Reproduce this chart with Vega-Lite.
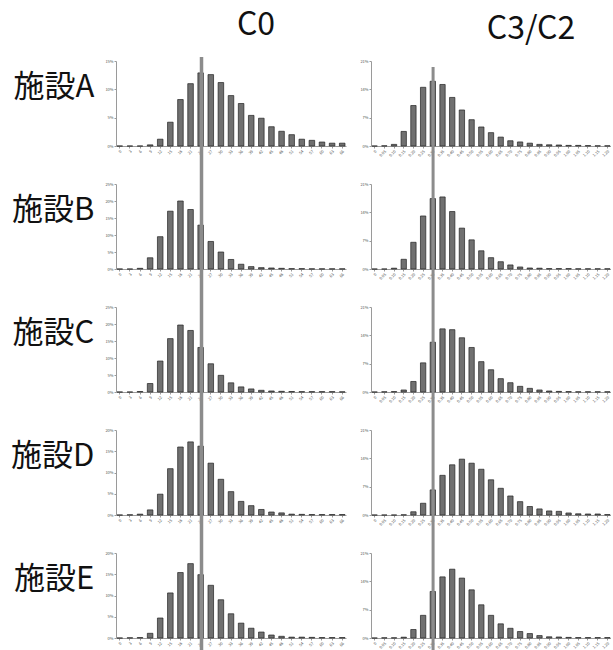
{
  "$schema": "https://vega.github.io/schema/vega-lite/v6.json",
  "background": "white",
  "padding": {"left": 10, "right": 0, "top": 9, "bottom": 0},
  "bounds": "flush",
  "columns": 2,
  "spacing": {"row": 38, "column": 25},
  "datasets": {
    "lines": [{"m": "C0", "b": "24"}, {"m": "C3/C2", "b": "0.30"}],
    "hist": [
      {"f":"A","m":"C0","b":"0","p":0},{"f":"A","m":"C0","b":"3","p":0},{"f":"A","m":"C0","b":"6","p":0},{"f":"A","m":"C0","b":"9","p":0.2},{"f":"A","m":"C0","b":"12","p":1.2},{"f":"A","m":"C0","b":"15","p":4.2},{"f":"A","m":"C0","b":"18","p":8.2},{"f":"A","m":"C0","b":"21","p":11.0},{"f":"A","m":"C0","b":"24","p":12.9},{"f":"A","m":"C0","b":"27","p":12.6},{"f":"A","m":"C0","b":"30","p":11.2},{"f":"A","m":"C0","b":"33","p":8.9},{"f":"A","m":"C0","b":"36","p":7.5},{"f":"A","m":"C0","b":"39","p":5.4},{"f":"A","m":"C0","b":"42","p":4.9},{"f":"A","m":"C0","b":"45","p":3.4},{"f":"A","m":"C0","b":"48","p":2.6},{"f":"A","m":"C0","b":"51","p":2.0},{"f":"A","m":"C0","b":"54","p":1.2},{"f":"A","m":"C0","b":"57","p":1.0},{"f":"A","m":"C0","b":"60","p":0.7},{"f":"A","m":"C0","b":"63","p":0.5},{"f":"A","m":"C0","b":"66","p":0.5},
      {"f":"B","m":"C0","b":"0","p":0},{"f":"B","m":"C0","b":"3","p":0},{"f":"B","m":"C0","b":"6","p":0.2},{"f":"B","m":"C0","b":"9","p":3.3},{"f":"B","m":"C0","b":"12","p":9.5},{"f":"B","m":"C0","b":"15","p":17.0},{"f":"B","m":"C0","b":"18","p":20.0},{"f":"B","m":"C0","b":"21","p":17.5},{"f":"B","m":"C0","b":"24","p":12.9},{"f":"B","m":"C0","b":"27","p":8.1},{"f":"B","m":"C0","b":"30","p":5.0},{"f":"B","m":"C0","b":"33","p":2.8},{"f":"B","m":"C0","b":"36","p":1.4},{"f":"B","m":"C0","b":"39","p":0.7},{"f":"B","m":"C0","b":"42","p":0.4},{"f":"B","m":"C0","b":"45","p":0.3},{"f":"B","m":"C0","b":"48","p":0.2},{"f":"B","m":"C0","b":"51","p":0.1},{"f":"B","m":"C0","b":"54","p":0.1},{"f":"B","m":"C0","b":"57","p":0.05},{"f":"B","m":"C0","b":"60","p":0.05},{"f":"B","m":"C0","b":"63","p":0.05},{"f":"B","m":"C0","b":"66","p":0.05},
      {"f":"C","m":"C0","b":"0","p":0},{"f":"C","m":"C0","b":"3","p":0},{"f":"C","m":"C0","b":"6","p":0.15},{"f":"C","m":"C0","b":"9","p":2.5},{"f":"C","m":"C0","b":"12","p":9.1},{"f":"C","m":"C0","b":"15","p":15.7},{"f":"C","m":"C0","b":"18","p":19.7},{"f":"C","m":"C0","b":"21","p":18.1},{"f":"C","m":"C0","b":"24","p":13.1},{"f":"C","m":"C0","b":"27","p":8.3},{"f":"C","m":"C0","b":"30","p":4.9},{"f":"C","m":"C0","b":"33","p":2.7},{"f":"C","m":"C0","b":"36","p":1.5},{"f":"C","m":"C0","b":"39","p":0.9},{"f":"C","m":"C0","b":"42","p":0.5},{"f":"C","m":"C0","b":"45","p":0.3},{"f":"C","m":"C0","b":"48","p":0.2},{"f":"C","m":"C0","b":"51","p":0.15},{"f":"C","m":"C0","b":"54","p":0.1},{"f":"C","m":"C0","b":"57","p":0.1},{"f":"C","m":"C0","b":"60","p":0.1},{"f":"C","m":"C0","b":"63","p":0.1},{"f":"C","m":"C0","b":"66","p":0.05},
      {"f":"D","m":"C0","b":"0","p":0},{"f":"D","m":"C0","b":"3","p":0.05},{"f":"D","m":"C0","b":"6","p":0.2},{"f":"D","m":"C0","b":"9","p":1.2},{"f":"D","m":"C0","b":"12","p":4.9},{"f":"D","m":"C0","b":"15","p":10.9},{"f":"D","m":"C0","b":"18","p":16.0},{"f":"D","m":"C0","b":"21","p":17.2},{"f":"D","m":"C0","b":"24","p":16.2},{"f":"D","m":"C0","b":"27","p":12.2},{"f":"D","m":"C0","b":"30","p":8.4},{"f":"D","m":"C0","b":"33","p":5.5},{"f":"D","m":"C0","b":"36","p":3.2},{"f":"D","m":"C0","b":"39","p":2.2},{"f":"D","m":"C0","b":"42","p":1.3},{"f":"D","m":"C0","b":"45","p":0.7},{"f":"D","m":"C0","b":"48","p":0.5},{"f":"D","m":"C0","b":"51","p":0.2},{"f":"D","m":"C0","b":"54","p":0.15},{"f":"D","m":"C0","b":"57","p":0.1},{"f":"D","m":"C0","b":"60","p":0.1},{"f":"D","m":"C0","b":"63","p":0.1},{"f":"D","m":"C0","b":"66","p":0.1},
      {"f":"E","m":"C0","b":"0","p":0},{"f":"E","m":"C0","b":"3","p":0.05},{"f":"E","m":"C0","b":"6","p":0.1},{"f":"E","m":"C0","b":"9","p":1.1},{"f":"E","m":"C0","b":"12","p":4.7},{"f":"E","m":"C0","b":"15","p":10.6},{"f":"E","m":"C0","b":"18","p":15.4},{"f":"E","m":"C0","b":"21","p":17.5},{"f":"E","m":"C0","b":"24","p":14.9},{"f":"E","m":"C0","b":"27","p":12.4},{"f":"E","m":"C0","b":"30","p":9.0},{"f":"E","m":"C0","b":"33","p":5.7},{"f":"E","m":"C0","b":"36","p":3.5},{"f":"E","m":"C0","b":"39","p":2.3},{"f":"E","m":"C0","b":"42","p":1.4},{"f":"E","m":"C0","b":"45","p":0.7},{"f":"E","m":"C0","b":"48","p":0.4},{"f":"E","m":"C0","b":"51","p":0.2},{"f":"E","m":"C0","b":"54","p":0.2},{"f":"E","m":"C0","b":"57","p":0.15},{"f":"E","m":"C0","b":"60","p":0.1},{"f":"E","m":"C0","b":"63","p":0.1},{"f":"E","m":"C0","b":"66","p":0.1},
      {"f":"A","m":"C3/C2","b":"0","p":0},{"f":"A","m":"C3/C2","b":"0.05","p":0.05},{"f":"A","m":"C3/C2","b":"0.10","p":0.4},{"f":"A","m":"C3/C2","b":"0.15","p":3.6},{"f":"A","m":"C3/C2","b":"0.20","p":10.0},{"f":"A","m":"C3/C2","b":"0.25","p":14.5},{"f":"A","m":"C3/C2","b":"0.30","p":16.0},{"f":"A","m":"C3/C2","b":"0.35","p":15.2},{"f":"A","m":"C3/C2","b":"0.40","p":12.0},{"f":"A","m":"C3/C2","b":"0.45","p":8.9},{"f":"A","m":"C3/C2","b":"0.50","p":6.5},{"f":"A","m":"C3/C2","b":"0.55","p":4.7},{"f":"A","m":"C3/C2","b":"0.60","p":3.3},{"f":"A","m":"C3/C2","b":"0.65","p":2.2},{"f":"A","m":"C3/C2","b":"0.70","p":1.3},{"f":"A","m":"C3/C2","b":"0.75","p":1.0},{"f":"A","m":"C3/C2","b":"0.80","p":0.7},{"f":"A","m":"C3/C2","b":"0.85","p":0.4},{"f":"A","m":"C3/C2","b":"0.90","p":0.3},{"f":"A","m":"C3/C2","b":"0.95","p":0.25},{"f":"A","m":"C3/C2","b":"1.00","p":0.15},{"f":"A","m":"C3/C2","b":"1.05","p":0.15},{"f":"A","m":"C3/C2","b":"1.10","p":0.1},{"f":"A","m":"C3/C2","b":"1.15","p":0.05},{"f":"A","m":"C3/C2","b":"1.20","p":0.05},
      {"f":"B","m":"C3/C2","b":"0","p":0},{"f":"B","m":"C3/C2","b":"0.05","p":0},{"f":"B","m":"C3/C2","b":"0.10","p":0.2},{"f":"B","m":"C3/C2","b":"0.15","p":2.4},{"f":"B","m":"C3/C2","b":"0.20","p":6.6},{"f":"B","m":"C3/C2","b":"0.25","p":13.1},{"f":"B","m":"C3/C2","b":"0.30","p":17.4},{"f":"B","m":"C3/C2","b":"0.35","p":17.8},{"f":"B","m":"C3/C2","b":"0.40","p":14.2},{"f":"B","m":"C3/C2","b":"0.45","p":10.1},{"f":"B","m":"C3/C2","b":"0.50","p":7.2},{"f":"B","m":"C3/C2","b":"0.55","p":4.5},{"f":"B","m":"C3/C2","b":"0.60","p":2.8},{"f":"B","m":"C3/C2","b":"0.65","p":1.8},{"f":"B","m":"C3/C2","b":"0.70","p":1.0},{"f":"B","m":"C3/C2","b":"0.75","p":0.5},{"f":"B","m":"C3/C2","b":"0.80","p":0.25},{"f":"B","m":"C3/C2","b":"0.85","p":0.2},{"f":"B","m":"C3/C2","b":"0.90","p":0.1},{"f":"B","m":"C3/C2","b":"0.95","p":0.1},{"f":"B","m":"C3/C2","b":"1.00","p":0.1},{"f":"B","m":"C3/C2","b":"1.05","p":0.05},{"f":"B","m":"C3/C2","b":"1.10","p":0.05},{"f":"B","m":"C3/C2","b":"1.15","p":0.05},{"f":"B","m":"C3/C2","b":"1.20","p":0.05},
      {"f":"C","m":"C3/C2","b":"0","p":0},{"f":"C","m":"C3/C2","b":"0.05","p":0.05},{"f":"C","m":"C3/C2","b":"0.10","p":0.1},{"f":"C","m":"C3/C2","b":"0.15","p":0.5},{"f":"C","m":"C3/C2","b":"0.20","p":2.6},{"f":"C","m":"C3/C2","b":"0.25","p":7.2},{"f":"C","m":"C3/C2","b":"0.30","p":12.3},{"f":"C","m":"C3/C2","b":"0.35","p":15.6},{"f":"C","m":"C3/C2","b":"0.40","p":15.4},{"f":"C","m":"C3/C2","b":"0.45","p":13.4},{"f":"C","m":"C3/C2","b":"0.50","p":11.0},{"f":"C","m":"C3/C2","b":"0.55","p":7.5},{"f":"C","m":"C3/C2","b":"0.60","p":5.5},{"f":"C","m":"C3/C2","b":"0.65","p":3.3},{"f":"C","m":"C3/C2","b":"0.70","p":2.3},{"f":"C","m":"C3/C2","b":"0.75","p":1.4},{"f":"C","m":"C3/C2","b":"0.80","p":0.9},{"f":"C","m":"C3/C2","b":"0.85","p":0.5},{"f":"C","m":"C3/C2","b":"0.90","p":0.25},{"f":"C","m":"C3/C2","b":"0.95","p":0.15},{"f":"C","m":"C3/C2","b":"1.00","p":0.1},{"f":"C","m":"C3/C2","b":"1.05","p":0.05},{"f":"C","m":"C3/C2","b":"1.10","p":0.05},{"f":"C","m":"C3/C2","b":"1.15","p":0.05},{"f":"C","m":"C3/C2","b":"1.20","p":0.05},
      {"f":"D","m":"C3/C2","b":"0","p":0},{"f":"D","m":"C3/C2","b":"0.05","p":0},{"f":"D","m":"C3/C2","b":"0.10","p":0},{"f":"D","m":"C3/C2","b":"0.15","p":0.05},{"f":"D","m":"C3/C2","b":"0.20","p":0.8},{"f":"D","m":"C3/C2","b":"0.25","p":2.9},{"f":"D","m":"C3/C2","b":"0.30","p":6.2},{"f":"D","m":"C3/C2","b":"0.35","p":9.8},{"f":"D","m":"C3/C2","b":"0.40","p":12.4},{"f":"D","m":"C3/C2","b":"0.45","p":13.8},{"f":"D","m":"C3/C2","b":"0.50","p":12.8},{"f":"D","m":"C3/C2","b":"0.55","p":11.3},{"f":"D","m":"C3/C2","b":"0.60","p":8.7},{"f":"D","m":"C3/C2","b":"0.65","p":6.6},{"f":"D","m":"C3/C2","b":"0.70","p":4.7},{"f":"D","m":"C3/C2","b":"0.75","p":3.3},{"f":"D","m":"C3/C2","b":"0.80","p":2.1},{"f":"D","m":"C3/C2","b":"0.85","p":1.5},{"f":"D","m":"C3/C2","b":"0.90","p":1.0},{"f":"D","m":"C3/C2","b":"0.95","p":0.9},{"f":"D","m":"C3/C2","b":"1.00","p":0.5},{"f":"D","m":"C3/C2","b":"1.05","p":0.3},{"f":"D","m":"C3/C2","b":"1.10","p":0.25},{"f":"D","m":"C3/C2","b":"1.15","p":0.25},{"f":"D","m":"C3/C2","b":"1.20","p":0.1},
      {"f":"E","m":"C3/C2","b":"0","p":0},{"f":"E","m":"C3/C2","b":"0.05","p":0.05},{"f":"E","m":"C3/C2","b":"0.10","p":0.05},{"f":"E","m":"C3/C2","b":"0.15","p":0.2},{"f":"E","m":"C3/C2","b":"0.20","p":2.1},{"f":"E","m":"C3/C2","b":"0.25","p":5.6},{"f":"E","m":"C3/C2","b":"0.30","p":11.5},{"f":"E","m":"C3/C2","b":"0.35","p":15.1},{"f":"E","m":"C3/C2","b":"0.40","p":17.0},{"f":"E","m":"C3/C2","b":"0.45","p":14.8},{"f":"E","m":"C3/C2","b":"0.50","p":11.9},{"f":"E","m":"C3/C2","b":"0.55","p":8.2},{"f":"E","m":"C3/C2","b":"0.60","p":5.6},{"f":"E","m":"C3/C2","b":"0.65","p":3.5},{"f":"E","m":"C3/C2","b":"0.70","p":2.4},{"f":"E","m":"C3/C2","b":"0.75","p":1.6},{"f":"E","m":"C3/C2","b":"0.80","p":1.1},{"f":"E","m":"C3/C2","b":"0.85","p":0.6},{"f":"E","m":"C3/C2","b":"0.90","p":0.3},{"f":"E","m":"C3/C2","b":"0.95","p":0.25},{"f":"E","m":"C3/C2","b":"1.00","p":0.15},{"f":"E","m":"C3/C2","b":"1.05","p":0.1},{"f":"E","m":"C3/C2","b":"1.10","p":0.1},{"f":"E","m":"C3/C2","b":"1.15","p":0.1},{"f":"E","m":"C3/C2","b":"1.20","p":0.1}
    ]
  },
  "config": {
    "font": "Noto Sans CJK JP",
    "view": {"stroke": null},
    "axis": {"grid": false, "labelFontSize": 4, "labelColor": "#555", "domainColor": "#9a9a9a", "tickColor": "#9a9a9a", "tickSize": 2, "labelPadding": 1},
    "axisX": {"labelAngle": -45, "title": null},
    "title": {"fontSize": 32, "fontWeight": "normal", "offset": 13, "color": "#111"}
  },
  "concat": [
      {"width": 230, "height": 85, "title": {"text": "C0", "dx": 25},
       "layer": [
        {"data": {"name": "hist"}, "transform": [{"filter": "datum.f=='A' && datum.m=='C0'"}],
         "mark": {"type": "bar", "fill": "#707070", "stroke": "#222", "strokeWidth": 0.7},
         "encoding": {"x": {"field": "b", "type": "ordinal", "sort": null, "scale": {"paddingInner": 0.45, "paddingOuter": 0.1}, "axis": {"title": null}},
          "y": {"field": "p", "type": "quantitative", "scale": {"domain": [0, 15]}, "axis": {"values": [0, 5, 10, 15], "labelExpr": "datum.value + '%'", "title": "施設A", "titleAngle": 0, "titleFontSize": 31, "titleFontWeight": "normal", "titleColor": "#111", "titleAlign": "right", "titleBaseline": "bottom", "titlePadding": 11}}}},
        {"data": {"name": "lines"}, "transform": [{"filter": "datum.m=='C0'"}],
         "mark": {"type": "rule", "color": "#8c8c8c", "strokeWidth": 3.5, "y": -4, "y2": 104},
         "encoding": {"x": {"field": "b", "type": "ordinal", "sort": null, "bandPosition": 0.65}}}
       ]},
      {"width": 240, "height": 85, "title": {"text": "C3/C2", "dx": 40},
       "layer": [
        {"data": {"name": "hist"}, "transform": [{"filter": "datum.f=='A' && datum.m=='C3/C2'"}],
         "mark": {"type": "bar", "fill": "#707070", "stroke": "#222", "strokeWidth": 0.7},
         "encoding": {"x": {"field": "b", "type": "ordinal", "sort": null, "scale": {"paddingInner": 0.45, "paddingOuter": 0.1}, "axis": {"title": null}},
          "y": {"field": "p", "type": "quantitative", "scale": {"domain": [0, 21]}, "axis": {"values": [0, 7, 14, 21], "labelExpr": "datum.value + '%'", "title": null}}}},
        {"data": {"name": "lines"}, "transform": [{"filter": "datum.m=='C3/C2'"}],
         "mark": {"type": "rule", "color": "#8c8c8c", "strokeWidth": 3, "y": 6, "y2": 104},
         "encoding": {"x": {"field": "b", "type": "ordinal", "sort": null, "bandPosition": 0.55}}}
       ]},
      {"width": 230, "height": 85,
       "layer": [
        {"data": {"name": "hist"}, "transform": [{"filter": "datum.f=='B' && datum.m=='C0'"}],
         "mark": {"type": "bar", "fill": "#707070", "stroke": "#222", "strokeWidth": 0.7},
         "encoding": {"x": {"field": "b", "type": "ordinal", "sort": null, "scale": {"paddingInner": 0.45, "paddingOuter": 0.1}, "axis": {"title": null}},
          "y": {"field": "p", "type": "quantitative", "scale": {"domain": [0, 25]}, "axis": {"values": [0, 5, 10, 15, 20, 25], "labelExpr": "datum.value + '%'", "title": "施設B", "titleAngle": 0, "titleFontSize": 31, "titleFontWeight": "normal", "titleColor": "#111", "titleAlign": "right", "titleBaseline": "bottom", "titlePadding": 11}}}},
        {"data": {"name": "lines"}, "transform": [{"filter": "datum.m=='C0'"}],
         "mark": {"type": "rule", "color": "#8c8c8c", "strokeWidth": 3.5, "y": -19, "y2": 104},
         "encoding": {"x": {"field": "b", "type": "ordinal", "sort": null, "bandPosition": 0.65}}}
       ]},
      {"width": 240, "height": 85,
       "layer": [
        {"data": {"name": "hist"}, "transform": [{"filter": "datum.f=='B' && datum.m=='C3/C2'"}],
         "mark": {"type": "bar", "fill": "#707070", "stroke": "#222", "strokeWidth": 0.7},
         "encoding": {"x": {"field": "b", "type": "ordinal", "sort": null, "scale": {"paddingInner": 0.45, "paddingOuter": 0.1}, "axis": {"title": null}},
          "y": {"field": "p", "type": "quantitative", "scale": {"domain": [0, 21]}, "axis": {"values": [0, 7, 14, 21], "labelExpr": "datum.value + '%'", "title": null}}}},
        {"data": {"name": "lines"}, "transform": [{"filter": "datum.m=='C3/C2'"}],
         "mark": {"type": "rule", "color": "#8c8c8c", "strokeWidth": 3, "y": -19, "y2": 104},
         "encoding": {"x": {"field": "b", "type": "ordinal", "sort": null, "bandPosition": 0.55}}}
       ]},
      {"width": 230, "height": 85,
       "layer": [
        {"data": {"name": "hist"}, "transform": [{"filter": "datum.f=='C' && datum.m=='C0'"}],
         "mark": {"type": "bar", "fill": "#707070", "stroke": "#222", "strokeWidth": 0.7},
         "encoding": {"x": {"field": "b", "type": "ordinal", "sort": null, "scale": {"paddingInner": 0.45, "paddingOuter": 0.1}, "axis": {"title": null}},
          "y": {"field": "p", "type": "quantitative", "scale": {"domain": [0, 25]}, "axis": {"values": [0, 5, 10, 15, 20, 25], "labelExpr": "datum.value + '%'", "title": "施設C", "titleAngle": 0, "titleFontSize": 31, "titleFontWeight": "normal", "titleColor": "#111", "titleAlign": "right", "titleBaseline": "bottom", "titlePadding": 11}}}},
        {"data": {"name": "lines"}, "transform": [{"filter": "datum.m=='C0'"}],
         "mark": {"type": "rule", "color": "#8c8c8c", "strokeWidth": 3.5, "y": -19, "y2": 104},
         "encoding": {"x": {"field": "b", "type": "ordinal", "sort": null, "bandPosition": 0.65}}}
       ]},
      {"width": 240, "height": 85,
       "layer": [
        {"data": {"name": "hist"}, "transform": [{"filter": "datum.f=='C' && datum.m=='C3/C2'"}],
         "mark": {"type": "bar", "fill": "#707070", "stroke": "#222", "strokeWidth": 0.7},
         "encoding": {"x": {"field": "b", "type": "ordinal", "sort": null, "scale": {"paddingInner": 0.45, "paddingOuter": 0.1}, "axis": {"title": null}},
          "y": {"field": "p", "type": "quantitative", "scale": {"domain": [0, 21]}, "axis": {"values": [0, 7, 14, 21], "labelExpr": "datum.value + '%'", "title": null}}}},
        {"data": {"name": "lines"}, "transform": [{"filter": "datum.m=='C3/C2'"}],
         "mark": {"type": "rule", "color": "#8c8c8c", "strokeWidth": 3, "y": -19, "y2": 104},
         "encoding": {"x": {"field": "b", "type": "ordinal", "sort": null, "bandPosition": 0.55}}}
       ]},
      {"width": 230, "height": 85,
       "layer": [
        {"data": {"name": "hist"}, "transform": [{"filter": "datum.f=='D' && datum.m=='C0'"}],
         "mark": {"type": "bar", "fill": "#707070", "stroke": "#222", "strokeWidth": 0.7},
         "encoding": {"x": {"field": "b", "type": "ordinal", "sort": null, "scale": {"paddingInner": 0.45, "paddingOuter": 0.1}, "axis": {"title": null}},
          "y": {"field": "p", "type": "quantitative", "scale": {"domain": [0, 20]}, "axis": {"values": [0, 5, 10, 15, 20], "labelExpr": "datum.value + '%'", "title": "施設D", "titleAngle": 0, "titleFontSize": 31, "titleFontWeight": "normal", "titleColor": "#111", "titleAlign": "right", "titleBaseline": "bottom", "titlePadding": 11}}}},
        {"data": {"name": "lines"}, "transform": [{"filter": "datum.m=='C0'"}],
         "mark": {"type": "rule", "color": "#8c8c8c", "strokeWidth": 3.5, "y": -19, "y2": 104},
         "encoding": {"x": {"field": "b", "type": "ordinal", "sort": null, "bandPosition": 0.65}}}
       ]},
      {"width": 240, "height": 85,
       "layer": [
        {"data": {"name": "hist"}, "transform": [{"filter": "datum.f=='D' && datum.m=='C3/C2'"}],
         "mark": {"type": "bar", "fill": "#707070", "stroke": "#222", "strokeWidth": 0.7},
         "encoding": {"x": {"field": "b", "type": "ordinal", "sort": null, "scale": {"paddingInner": 0.45, "paddingOuter": 0.1}, "axis": {"title": null}},
          "y": {"field": "p", "type": "quantitative", "scale": {"domain": [0, 21]}, "axis": {"values": [0, 7, 14, 21], "labelExpr": "datum.value + '%'", "title": null}}}},
        {"data": {"name": "lines"}, "transform": [{"filter": "datum.m=='C3/C2'"}],
         "mark": {"type": "rule", "color": "#8c8c8c", "strokeWidth": 3, "y": -19, "y2": 104},
         "encoding": {"x": {"field": "b", "type": "ordinal", "sort": null, "bandPosition": 0.55}}}
       ]},
      {"width": 230, "height": 85,
       "layer": [
        {"data": {"name": "hist"}, "transform": [{"filter": "datum.f=='E' && datum.m=='C0'"}],
         "mark": {"type": "bar", "fill": "#707070", "stroke": "#222", "strokeWidth": 0.7},
         "encoding": {"x": {"field": "b", "type": "ordinal", "sort": null, "scale": {"paddingInner": 0.45, "paddingOuter": 0.1}, "axis": {"title": null}},
          "y": {"field": "p", "type": "quantitative", "scale": {"domain": [0, 20]}, "axis": {"values": [0, 5, 10, 15, 20], "labelExpr": "datum.value + '%'", "title": "施設E", "titleAngle": 0, "titleFontSize": 31, "titleFontWeight": "normal", "titleColor": "#111", "titleAlign": "right", "titleBaseline": "bottom", "titlePadding": 11}}}},
        {"data": {"name": "lines"}, "transform": [{"filter": "datum.m=='C0'"}],
         "mark": {"type": "rule", "color": "#8c8c8c", "strokeWidth": 3.5, "y": -19, "y2": 98},
         "encoding": {"x": {"field": "b", "type": "ordinal", "sort": null, "bandPosition": 0.65}}}
       ]},
      {"width": 240, "height": 85,
       "layer": [
        {"data": {"name": "hist"}, "transform": [{"filter": "datum.f=='E' && datum.m=='C3/C2'"}],
         "mark": {"type": "bar", "fill": "#707070", "stroke": "#222", "strokeWidth": 0.7},
         "encoding": {"x": {"field": "b", "type": "ordinal", "sort": null, "scale": {"paddingInner": 0.45, "paddingOuter": 0.1}, "axis": {"title": null}},
          "y": {"field": "p", "type": "quantitative", "scale": {"domain": [0, 21]}, "axis": {"values": [0, 7, 14, 21], "labelExpr": "datum.value + '%'", "title": null}}}},
        {"data": {"name": "lines"}, "transform": [{"filter": "datum.m=='C3/C2'"}],
         "mark": {"type": "rule", "color": "#8c8c8c", "strokeWidth": 3, "y": -19, "y2": 98},
         "encoding": {"x": {"field": "b", "type": "ordinal", "sort": null, "bandPosition": 0.55}}}
       ]}
  ]
}
